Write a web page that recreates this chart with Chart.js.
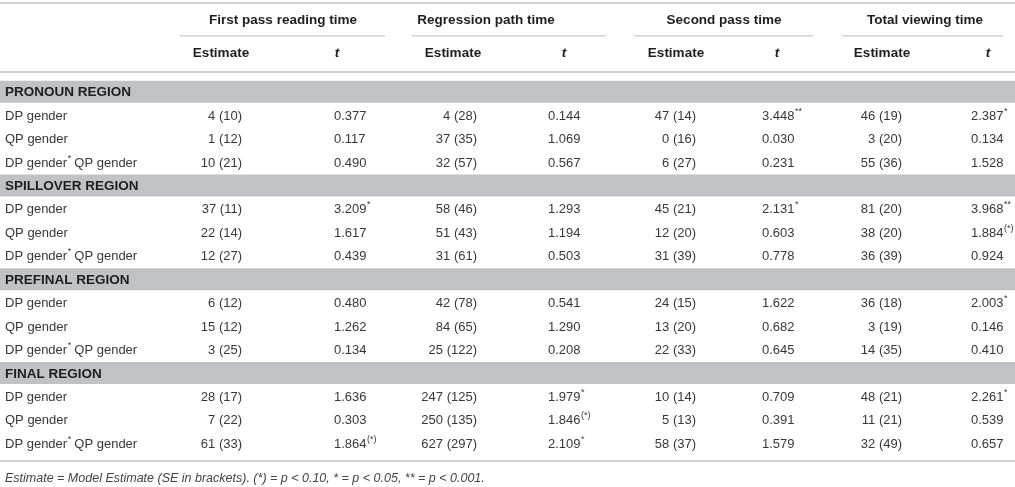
<!DOCTYPE html>
<html>
<head>
<meta charset="utf-8">
<script src="https://cdn.jsdelivr.net/npm/chart.js@4/dist/chart.umd.min.js"></script>
<style>
    html, body { margin: 0; padding: 0; background: #fff; }
    #wrap { width: 1015px; height: 487px; position: relative; }
</style>
</head>
<body>
<div id="wrap"><canvas id="table-chart"></canvas></div>
<script>
// ===================================
// Eye-tracking model estimates table
// ===================================

const regions = ['PRONOUN REGION', 'SPILLOVER REGION', 'PREFINAL REGION', 'FINAL REGION'];
const effects = ['DP gender', 'QP gender', 'DP gender* QP gender'];
const measures = ['First pass reading time', 'Regression path time', 'Second pass time', 'Total viewing time'];
const subHeaders = ['Estimate', 't'];

// one entry per effect row, regions in order
const firstPassEst = [4, 1, 10, 37, 22, 12, 6, 15, 3, 28, 7, 61];
const firstPassSE = [10, 12, 21, 11, 14, 27, 12, 12, 25, 17, 22, 33];
const firstPassT = [0.377, 0.117, 0.490, 3.209, 1.617, 0.439, 0.480, 1.262, 0.134, 1.636, 0.303, 1.864];
const firstPassSig = ['', '', '', '*', '', '', '', '', '', '', '', '(*)'];

const regressionEst = [4, 37, 32, 58, 51, 31, 42, 84, 25, 247, 250, 627];
const regressionSE = [28, 35, 57, 46, 43, 61, 78, 65, 122, 125, 135, 297];
const regressionT = [0.144, 1.069, 0.567, 1.293, 1.194, 0.503, 0.541, 1.290, 0.208, 1.979, 1.846, 2.109];
const regressionSig = ['', '', '', '', '', '', '', '', '', '*', '(*)', '*'];

const secondPassEst = [47, 0, 6, 45, 12, 31, 24, 13, 22, 10, 5, 58];
const secondPassSE = [14, 16, 27, 21, 20, 39, 15, 20, 33, 14, 13, 37];
const secondPassT = [3.448, 0.030, 0.231, 2.131, 0.603, 0.778, 1.622, 0.682, 0.645, 0.709, 0.391, 1.579];
const secondPassSig = ['**', '', '', '*', '', '', '', '', '', '', '', ''];

const totalEst = [46, 3, 55, 81, 38, 36, 36, 3, 14, 48, 11, 32];
const totalSE = [19, 20, 36, 20, 20, 39, 18, 19, 35, 21, 21, 49];
const totalT = [2.387, 0.134, 1.528, 3.968, 1.884, 0.924, 2.003, 0.146, 0.410, 2.261, 0.539, 0.657];
const totalSig = ['*', '', '', '**', '(*)', '', '*', '', '', '*', '', ''];

const footnote = 'Estimate = Model Estimate (SE in brackets). (*) = p < 0.10, * = p < 0.05, ** = p < 0.001.';

// column groups built from the arrays above
const groups = [
    { est: firstPassEst, se: firstPassSE, t: firstPassT, sig: firstPassSig },
    { est: regressionEst, se: regressionSE, t: regressionT, sig: regressionSig },
    { est: secondPassEst, se: secondPassSE, t: secondPassT, sig: secondPassSig },
    { est: totalEst, se: totalSE, t: totalT, sig: totalSig }
];

// layout (x in table units, same as the x scale)
const LAYOUT = {
    labelX: 5,
    groupCenter: [283, 486, 724, 925],
    underline: [[180, 385], [412, 606], [634, 813], [842, 1003]],
    estHeadCenter: [221, 453, 676, 882],
    tHeadCenter: [337, 564, 777, 988],
    estRight: [242, 477, 696, 902],
    tLeft: [334, 548, 762, 971]
};

const FONT = '"Liberation Sans", Arial, sans-serif';
const TEXT = '#383838';
const HEAD = '#1e1e1e';
const RULE = '#d2d2d2';
const BAND = '#c1c2c5';

// rows: a section band then its three effects
const rows = [];
regions.forEach((region, r) => {
    rows.push({ type: 'section', label: region });
    effects.forEach((eff, e) => rows.push({ type: 'effect', label: eff, idx: r * effects.length + e }));
});

function drawSup(ctx, base, sup, x, y, size) {
    ctx.textAlign = 'left';
    ctx.fillText(base, x, y);
    if (!sup) return;
    const w = ctx.measureText(base).width;
    const old = ctx.font;
    ctx.font = `${Math.round(size * 0.68)}px ${FONT}`;
    ctx.fillText(sup, x + w + 0.5, y - size * 0.38);
    ctx.font = old;
}

const tablePlugin = {
    id: 'tableText',
    afterDatasetsDraw(chart) {
        const { ctx, scales: { x, y }, chartArea } = chart;
        const px = v => x.getPixelForValue(v);
        ctx.save();
        ctx.textBaseline = 'middle';

        // rules
        ctx.fillStyle = RULE;
        ctx.fillRect(px(0), 2, px(1015) - px(0), 2);
        LAYOUT.underline.forEach(([a, b]) => ctx.fillRect(px(a), 35, px(b) - px(a), 1.5));
        ctx.fillRect(px(0), 71, px(1015) - px(0), 2);
        ctx.fillRect(px(0), chartArea.bottom + 5, px(1015) - px(0), 2);

        // headers
        ctx.fillStyle = HEAD;
        ctx.font = `bold 13.5px ${FONT}`;
        ctx.textAlign = 'center';
        measures.forEach((m, g) => ctx.fillText(m, px(LAYOUT.groupCenter[g]), 20));
        measures.forEach((m, g) => {
            ctx.font = `bold 13.5px ${FONT}`;
            ctx.fillText(subHeaders[0], px(LAYOUT.estHeadCenter[g]), 53);
            ctx.font = `italic bold 13.5px ${FONT}`;
            ctx.fillText(subHeaders[1], px(LAYOUT.tHeadCenter[g]), 53);
        });

        // body
        rows.forEach((row, i) => {
            const cy = y.getPixelForValue(i) + 1;
            if (row.type === 'section') {
                ctx.fillStyle = HEAD;
                ctx.font = `bold 13.5px ${FONT}`;
                ctx.textAlign = 'left';
                ctx.fillText(row.label, px(LAYOUT.labelX), cy);
                return;
            }
            ctx.fillStyle = TEXT;
            ctx.font = `13px ${FONT}`;
            const parts = row.label.split('*');
            if (parts.length > 1) {
                drawSup(ctx, parts[0], '*', px(LAYOUT.labelX), cy, 13);
                const w = ctx.measureText(parts[0]).width + ctx.measureText('*').width * 0.7;
                ctx.fillText(parts[1], px(LAYOUT.labelX) + w, cy);
            } else {
                ctx.textAlign = 'left';
                ctx.fillText(row.label, px(LAYOUT.labelX), cy);
            }
            groups.forEach((grp, g) => {
                ctx.textAlign = 'right';
                ctx.fillText(`${grp.est[row.idx]} (${grp.se[row.idx]})`, px(LAYOUT.estRight[g]), cy);
                drawSup(ctx, grp.t[row.idx].toFixed(3), grp.sig[row.idx], px(LAYOUT.tLeft[g]), cy, 13);
            });
        });

        // footnote
        ctx.fillStyle = '#444';
        ctx.font = `italic 12.5px ${FONT}`;
        ctx.textAlign = 'left';
        ctx.fillText(footnote, px(LAYOUT.labelX), 479);
        ctx.restore();
    }
};

const ctx = document.getElementById('table-chart').getContext('2d');
new Chart(ctx, {
    type: 'bar',
    data: {
        labels: rows.map(r => r.label),
        datasets: [{
            label: 'section bands',
            data: rows.map(r => (r.type === 'section' ? [0, 1015] : null)),
            backgroundColor: BAND,
            borderWidth: 0,
            barPercentage: 0.94,
            categoryPercentage: 1
        }]
    },
    options: {
        indexAxis: 'y',
        responsive: true,
        maintainAspectRatio: false,
        animation: false,
        layout: { padding: { top: 80, bottom: 32, left: 0, right: 0 } },
        plugins: {
            legend: { display: false },
            tooltip: { enabled: false }
        },
        scales: {
            x: { type: 'linear', min: 0, max: 1015, display: false },
            y: { type: 'category', display: false, offset: true }
        }
    },
    plugins: [tablePlugin]
});
</script>
</body>
</html>
